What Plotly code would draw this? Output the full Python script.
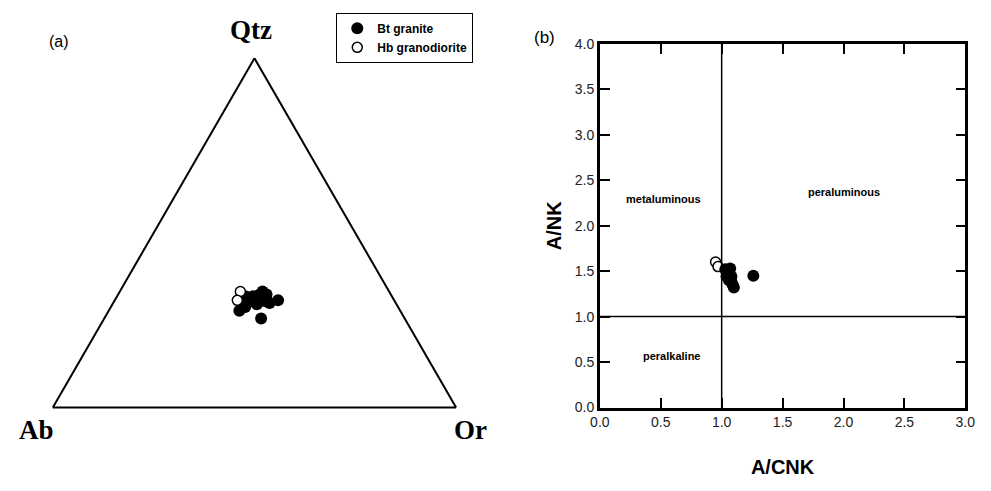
import plotly.graph_objects as go

# ---------------- data ----------------
# (a) Qtz-Ab-Or ternary (normalised fractions)
bt_qtz = [0.277, 0.307, 0.255, 0.299, 0.319, 0.324, 0.324, 0.305, 0.296, 0.313, 0.299, 0.288, 0.332, 0.310, 0.318]
bt_ab  = [0.399, 0.288, 0.356, 0.369, 0.344, 0.325, 0.308, 0.322, 0.346, 0.355, 0.313, 0.379, 0.314, 0.335, 0.362]
bt_or  = [0.324, 0.405, 0.389, 0.332, 0.337, 0.351, 0.368, 0.373, 0.358, 0.332, 0.388, 0.333, 0.354, 0.355, 0.320]
hb_qtz = [0.332, 0.307]
hb_ab  = [0.369, 0.389]
hb_or  = [0.299, 0.304]

# (b) A/CNK vs A/NK
bt_acnk = [1.03, 1.05, 1.06, 1.04, 1.07, 1.08, 1.09, 1.10, 1.06, 1.05, 1.08, 1.04, 1.07, 1.26]
bt_ank  = [1.52, 1.50, 1.47, 1.44, 1.42, 1.38, 1.35, 1.32, 1.40, 1.46, 1.44, 1.49, 1.53, 1.45]
hb_acnk = [0.95, 0.97]
hb_ank  = [1.60, 1.55]

x_ticks = [0.0, 0.5, 1.0, 1.5, 2.0, 2.5, 3.0]
y_ticks = [0.0, 0.5, 1.0, 1.5, 2.0, 2.5, 3.0, 3.5, 4.0]

W, H = 991, 491
SANS = "Liberation Sans, Arial, sans-serif"
SERIF = "Liberation Serif, Times New Roman, serif"

fig = go.Figure()

filled = dict(color="black", size=12, line=dict(color="black", width=0))
opened = dict(color="white", size=10, line=dict(color="black", width=1.5))

fig.add_trace(go.Scatterternary(a=bt_qtz, b=bt_ab, c=bt_or, mode="markers",
                                marker=filled, name="Bt granite"))
fig.add_trace(go.Scatterternary(a=hb_qtz, b=hb_ab, c=hb_or, mode="markers",
                                marker=opened, name="Hb granodiorite"))
fig.add_trace(go.Scatter(x=hb_acnk, y=hb_ank, mode="markers", marker=opened,
                         showlegend=False, xaxis="x", yaxis="y"))
fig.add_trace(go.Scatter(x=bt_acnk, y=bt_ank, mode="markers", marker=filled,
                         showlegend=False, xaxis="x", yaxis="y"))

tern_axis = dict(showticklabels=False, ticks="", showgrid=False,
                 linecolor="black", linewidth=2, title=dict(text=""))

axis_common = dict(showline=True, linecolor="black", linewidth=2.5, mirror="ticks",
                   ticks="inside", ticklen=10, tickwidth=2, tickcolor="black",
                   showgrid=False, zeroline=False,
                   tickfont=dict(family=SANS, size=14, color="#222"))


def label(text, px, py, font):
    return dict(text=text, x=px / W, y=(H - py) / H, xref="paper", yref="paper",
                xanchor="center", yanchor="middle", showarrow=False, font=font)


def region(text, x, y):
    return dict(text=text, x=x, y=y, xref="x", yref="y", xanchor="center",
                yanchor="middle", showarrow=False,
                font=dict(family=SANS, size=11, color="black"))


vfont = dict(family=SERIF, size=27, color="black")

fig.update_layout(
    autosize=True,
    margin=dict(l=0, r=0, t=0, b=0),
    paper_bgcolor="white", plot_bgcolor="white",
    ternary=dict(domain=dict(x=[42 / W, 457 / W], y=[(H - 413) / H, (H - 52) / H]),
                 sum=1, bgcolor="white",
                 aaxis=tern_axis, baxis=tern_axis, caxis=tern_axis),
    xaxis=dict(domain=[602 / W, 975 / W], range=[0, 3],
               tickvals=x_ticks, ticktext=[f"{v:.1f}" for v in x_ticks],
               title=dict(text="<b>A/CNK</b>", font=dict(family=SANS, size=20, color="black"),
                          standoff=31),
               anchor="y", **axis_common),
    yaxis=dict(domain=[(H - 413) / H, (H - 37) / H], range=[0, 4],
               tickvals=y_ticks, ticktext=[f"{v:.1f}" for v in y_ticks],
               title=dict(text="<b>A/NK</b>", font=dict(family=SANS, size=20, color="black"),
                          standoff=8),
               anchor="x", **axis_common),
    legend=dict(x=333 / W, y=(H - 5) / H, xanchor="left", yanchor="top",
                bordercolor="black", borderwidth=1, bgcolor="white",
                font=dict(family=SANS, size=12, color="black", weight="bold"),
                itemwidth=30, tracegroupgap=0),
    shapes=[
        dict(type="line", xref="x", yref="y", x0=1, x1=1, y0=0, y1=4,
             line=dict(color="black", width=1.5)),
        dict(type="line", xref="x", yref="y", x0=0, x1=3, y0=1, y1=1,
             line=dict(color="black", width=1.5)),
    ],
    annotations=[
        label("<b>Qtz</b>", 246, 23, vfont),
        label("<b>Ab</b>", 27, 436, vfont),
        label("<b>Or</b>", 470, 436, vfont),
        label("(a)", 50, 35, dict(family=SANS, size=16, color="black")),
        label("(b)", 545, 31, dict(family=SANS, size=17, color="black")),
        region("<b>metaluminous</b>", 0.52, 2.29),
        region("<b>peraluminous</b>", 2.0, 2.37),
        region("<b>peralkaline</b>", 0.59, 0.57),
    ],
)

fig.write_html("out.html")
